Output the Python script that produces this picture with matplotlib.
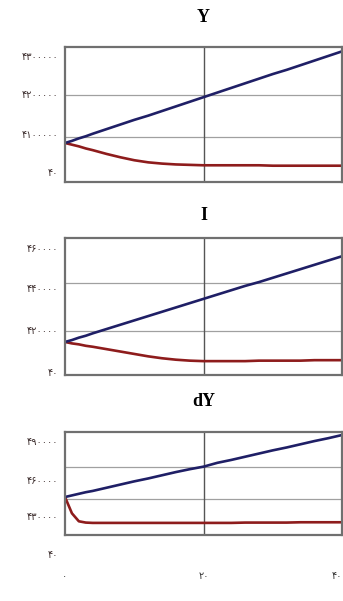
import matplotlib
matplotlib.use("Agg")
import matplotlib.pyplot as plt

# Dados (eixo x compartilhado)
x = [0, 1, 2, 3, 4, 6, 8, 10, 12, 14, 16, 18, 20, 22, 24, 26, 28, 30, 32, 34, 36, 38, 40]

y_blue = [0.86, 0.91, 0.97, 1.02, 1.08, 1.19, 1.30, 1.41, 1.51, 1.62, 1.73, 1.84, 1.95,
          2.06, 2.17, 2.28, 2.39, 2.50, 2.60, 2.71, 2.82, 2.93, 3.04]
y_red = [0.86, 0.82, 0.78, 0.73, 0.69, 0.60, 0.52, 0.45, 0.40, 0.37, 0.35, 0.34, 0.33,
         0.33, 0.33, 0.33, 0.33, 0.32, 0.32, 0.32, 0.32, 0.32, 0.32]

i_blue = [0.77, 0.81, 0.86, 0.90, 0.95, 1.04, 1.13, 1.22, 1.31, 1.40, 1.49, 1.58, 1.67,
          1.76, 1.85, 1.94, 2.02, 2.11, 2.20, 2.29, 2.38, 2.47, 2.56]
i_red = [0.77, 0.74, 0.72, 0.69, 0.67, 0.62, 0.57, 0.52, 0.47, 0.43, 0.40, 0.38, 0.37,
         0.37, 0.37, 0.37, 0.38, 0.38, 0.38, 0.38, 0.39, 0.39, 0.39]

dy_blue = [1.06, 1.11, 1.16, 1.21, 1.25, 1.35, 1.45, 1.55, 1.64, 1.74, 1.84, 1.93, 2.01,
           2.13, 2.22, 2.32, 2.42, 2.52, 2.61, 2.71, 2.81, 2.90, 3.00]
dy_red = [1.06, 0.55, 0.30, 0.26, 0.25, 0.25, 0.25, 0.25, 0.25, 0.25, 0.25, 0.25, 0.25,
          0.25, 0.25, 0.26, 0.26, 0.26, 0.26, 0.27, 0.27, 0.27, 0.27]

titles = ["Y", "I", "dY"]

# Rótulos do eixo y (dígitos persas) e onde aparecem
ylabels_1 = ["۴۳۰۰۰۰۰", "۴۲۰۰۰۰۰", "۴۱۰۰۰۰۰", "۴۰"]
ylabels_2 = ["۴۶۰۰۰۰", "۴۴۰۰۰۰", "۴۲۰۰۰۰", "۴۰"]
ylabels_3 = ["۴۹۰۰۰۰", "۴۶۰۰۰۰", "۴۳۰۰۰۰", "۴۰"]
ylabel_pos_1 = [2.90, 2.00, 1.05, 0.14]
ylabel_pos_2 = [2.71, 1.88, 1.00, 0.13]
ylabel_pos_3 = [2.78, 1.56, 0.44, -0.75]

xticks = [0, 20, 40]
xtick_labels = ["۰", "۲۰", "۴۰"]

BLUE = "#1f1f66"
RED = "#8e1c1c"
FRAME = "#707070"

fig = plt.figure(figsize=(3.43, 6.01), dpi=100)

panels = [
    ([0.1895, 0.697, 0.808, 0.2246], y_blue, y_red, (-0.07, 3.14), ylabels_1, ylabel_pos_1, 18),
    ([0.1895, 0.376, 0.808, 0.228], i_blue, i_red, (0.08, 2.94), ylabels_2, ylabel_pos_2, 13),
    ([0.1895, 0.110, 0.808, 0.171], dy_blue, dy_red, (-0.125, 3.09), ylabels_3, ylabel_pos_3, 19),
]

for k, (rect, blue, red, ylim, labs, pos, pad) in enumerate(panels):
    ax = fig.add_axes(rect)
    ax.plot(x, red, color=RED, lw=1.9, solid_capstyle="butt")
    ax.plot(x, blue, color=BLUE, lw=1.9, solid_capstyle="butt")
    ax.set_xlim(0, 40)
    ax.set_ylim(*ylim)

    # grade
    for g in [1, 2]:
        ax.axhline(g, color="#a0a0a0", lw=0.9, zorder=0)
    ax.axvline(20, color="#555555", lw=1.0, zorder=0)

    for s in ax.spines.values():
        s.set_color(FRAME)
        s.set_linewidth(1.6)

    ax.set_yticks([])
    ax.set_xticks(xticks)
    ax.tick_params(axis="x", length=0, pad=26, labelsize=7, colors="#333333")
    if k < 2:
        ax.set_xticklabels([])
    else:
        ax.set_xticklabels(xtick_labels)
        ax.get_xticklabels()[-1].set_horizontalalignment("right")

    for lab, p in zip(labs, pos):
        ax.text(-0.025, p, lab, transform=ax.get_yaxis_transform(), ha="right", va="center",
                fontsize=7, color="#3a2b2b", clip_on=False)

    ax.set_title(titles[k], fontsize=13, fontweight="bold", family="Liberation Serif", pad=pad)

fig.savefig("out.png", dpi=100)
